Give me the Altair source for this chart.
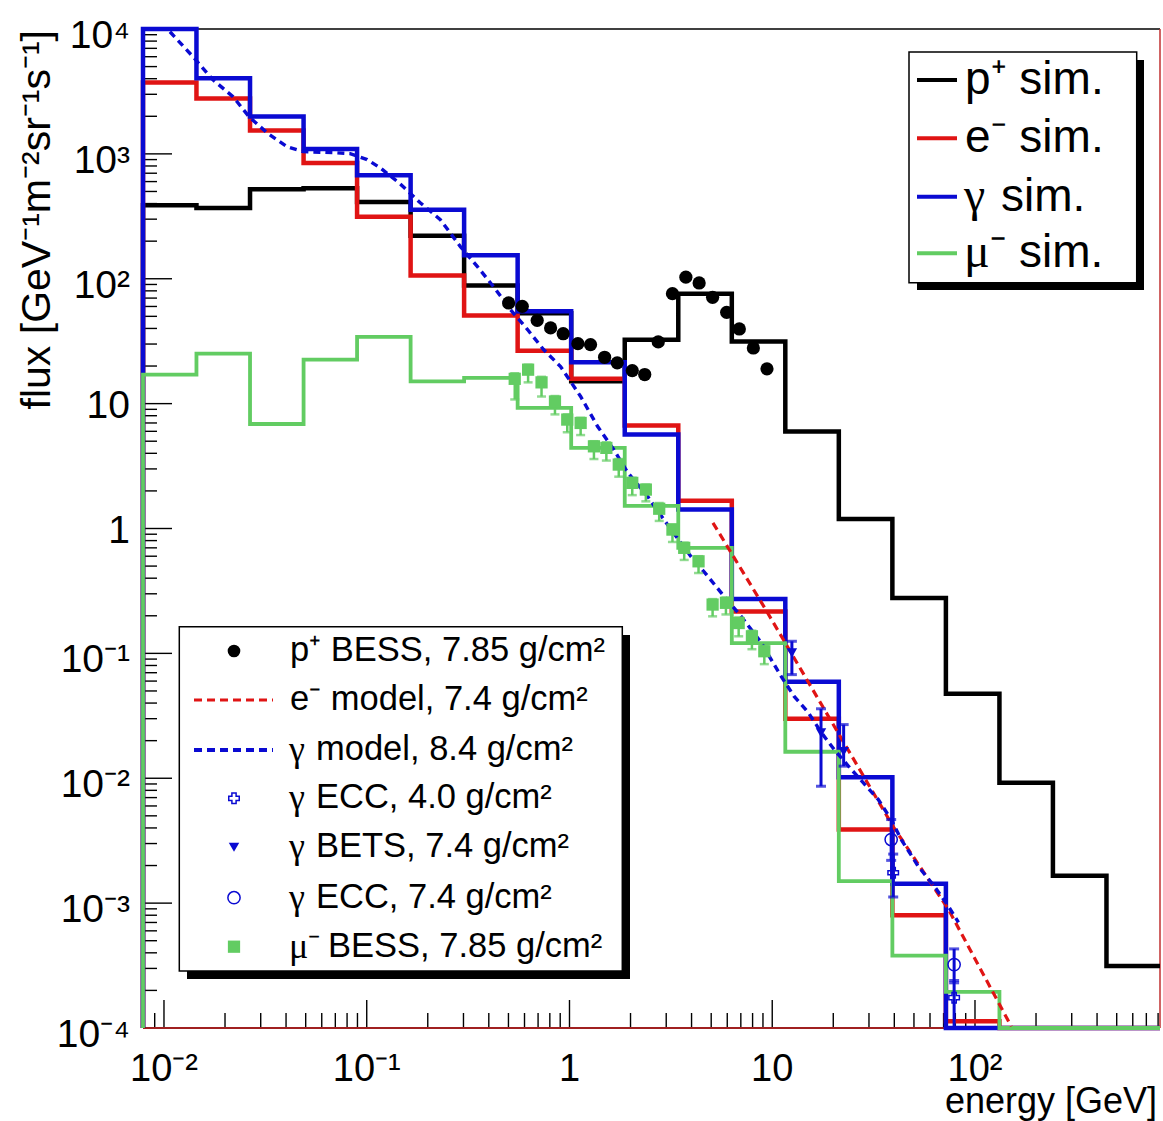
import altair as alt
import pandas as pd

# ---------------- data ----------------
X_DOMAIN = [0.00788, 817.5]
Y_DOMAIN = [1e-4, 1e4]

bin_edges = [0.00788, 0.01446, 0.02657, 0.04881, 0.08961, 0.1646, 0.3022, 0.5550,
             1.0195, 1.873, 3.440, 6.318, 11.60, 21.30, 39.13, 71.86, 132.0,
             242.3, 445.1, 817.5]

p_sim = [387, 369, 520, 530, 412, 221, 88.5, 53, 15.1, 32.5, 76, 31.5, 5.97,
         1.19, 0.278, 0.0474, 0.00919, 0.00166, 3.13e-4]
e_sim = [3730, 2780, 1540, 845, 313, 106, 50.7, 26.5, 15.8, 6.67, 1.67, 0.216,
         0.0299, 0.00388, 8.0e-4, 1.13e-4, 0, 0, 0]
g_sim = [1.0e4, 4030, 1995, 1094, 673, 357, 154, 54.8, 21.4, 5.65, 1.42, 0.273,
         0.0592, 0.0102, 0.00143, 0, 0, 0, 0]
mu_sim = [17.1, 25.1, 6.87, 22.5, 34.2, 15.1, 16.1, 9.25, 4.42, 1.52, 0.70,
          0.121, 0.0163, 0.0015, 3.8e-4, 1.95e-4, 0, 0, 0]

e_model_E = [5.1, 9.1, 39.5, 74.0, 151]
e_model_F = [1.11, 0.237, 0.0041, 8.9e-4, 1.03e-4]

g_model_E = [0.0107, 0.0139, 0.0174, 0.0219, 0.0263, 0.0322, 0.0404, 0.0485, 0.0683,
             0.0828, 0.1005, 0.1164, 0.146, 0.1836, 0.2307, 0.2897, 0.3516, 0.4218,
             0.5117, 0.6209, 0.7447, 0.9036, 1.135, 1.377, 1.652, 1.937, 2.432, 2.918,
             3.97, 4.82, 5.58, 7.02, 8.81, 11.07, 12.83, 15.04, 17.43, 20.2, 24.5,
             33.3, 38.6, 43.3, 52.6, 63.1, 74.0, 82.9]
g_model_F = [9510, 6000, 3930, 2870, 1980, 1476, 1142, 1042, 1023, 1004, 900, 774, 577,
             406, 297, 181, 125, 86.5, 56.6, 39.2, 27.1, 19.8, 11.4, 6.56, 4.29, 2.81,
             1.80, 1.18, 0.597, 0.413, 0.308, 0.198, 0.1225, 0.0654, 0.0452, 0.0337,
             0.0233, 0.0170, 0.0118, 0.00677, 0.00468, 0.00323, 0.00196, 0.00136,
             9.4e-4, 7.0e-4]

p_bess_E = [0.501, 0.585, 0.693, 0.807, 0.931, 1.10, 1.27, 1.49, 1.72, 2.04, 2.35,
            2.74, 3.22, 3.75, 4.36, 5.08, 5.96, 6.88, 8.07, 9.42]
p_bess_F = [64.0, 60.1, 46.4, 40.4, 36.3, 30.2, 29.7, 23.5, 21.2, 18.4, 17.1, 31.2,
            76.0, 103, 92.5, 71.0, 53.8, 39.6, 27.9, 19.0]

mu_bess_E = [0.537, 0.625, 0.728, 0.848, 0.975, 1.135, 1.32, 1.52, 1.75, 2.04, 2.38,
             2.77, 3.22, 3.68, 4.33, 5.08, 5.91, 6.83, 7.94, 9.14]
mu_bess_F = [15.8, 18.7, 14.8, 10.4, 7.45, 7.0, 4.55, 4.42, 3.25, 2.32, 2.05, 1.44,
             0.98, 0.70, 0.546, 0.246, 0.254, 0.175, 0.137, 0.104]
mu_bess_lo = [10.8, 14.8, 11.4, 8.2, 5.9, 5.6, 3.6, 3.5, 2.6, 1.85, 1.65, 1.15, 0.78,
              0.56, 0.44, 0.198, 0.205, 0.137, 0.108, 0.082]
mu_bess_hi = [17.5, 20.5, 16.4, 11.5, 8.2, 7.7, 5.0, 4.9, 3.6, 2.55, 2.25, 1.6, 1.08,
              0.77, 0.6, 0.272, 0.28, 0.194, 0.152, 0.115]

bets_E = [12.5, 17.4, 22.5]
bets_F = [0.101, 0.0231, 0.0164]
bets_lo = [0.0676, 0.00863, 0.0125]
bets_hi = [0.125, 0.036, 0.0269]

ecc74_E = [38.6, 78.9]
ecc74_F = [0.00323, 3.22e-4]
ecc74_lo = [0.0022, 2.3e-4]
ecc74_hi = [0.00467, 4.3e-4]

ecc40_E = [39.5, 78.9]
ecc40_F = [0.00175, 1.75e-4]
ecc40_lo = [0.00112, 1.0e-4]
ecc40_hi = [0.00247, 2.4e-4]

x_tick_labels = ["10⁻²", "10⁻¹", "1", "10", "10²"]
x_tick_values = [0.01, 0.1, 1, 10, 100]
y_tick_labels = ["10⁴", "10³", "10²", "10", "1", "10⁻¹", "10⁻²", "10⁻³", "10⁻⁴"]
y_tick_values = [1e4, 1e3, 1e2, 10, 1, 0.1, 0.01, 1e-3, 1e-4]

# legend labels: (greek prefix drawn in a Symbol-like serif face, remaining text)
legend1_prefix = ["", "", "γ", "μ⁻"]
legend1_rest = ["p⁺ sim.", "e⁻ sim.", "sim.", "sim."]
legend2_prefix = ["", "", "γ", "γ", "γ", "γ", "μ⁻"]
legend2_rest = ["p⁺ BESS, 7.85 g/cm²", "e⁻ model, 7.4 g/cm²", "model, 8.4 g/cm²",
                "ECC, 4.0 g/cm²", "BETS, 7.4 g/cm²", "ECC, 7.4 g/cm²",
                "BESS, 7.85 g/cm²"]

# ---------------- style ----------------
W, H = 1017, 999
FONT = "Liberation Sans"
GREEK_FONT = "Liberation Serif"
BLACK = "#000000"
RED = "#e01414"
BLUE = "#0a0ad2"
GREEN = "#62cc62"

xs = alt.Scale(type="log", domain=X_DOMAIN, nice=False)
ys = alt.Scale(type="log", domain=Y_DOMAIN, nice=False)
one = pd.DataFrame({"a": [0]})


def X(field):
    return alt.X(field, type="quantitative", scale=xs, axis=None)


def Y(field):
    return alt.Y(field, type="quantitative", scale=ys, axis=None)


def hist_df(vals):
    floor = Y_DOMAIN[0]
    rows = [(bin_edges[0], floor)]
    for i, v in enumerate(vals):
        vv = max(v, floor)
        rows.append((bin_edges[i], vv))
        rows.append((bin_edges[i + 1], vv))
    return pd.DataFrame({"e": [r[0] for r in rows], "f": [r[1] for r in rows],
                         "i": list(range(len(rows)))})


def hist_layer(vals, color, width):
    return alt.Chart(hist_df(vals)).mark_line(
        color=color, strokeWidth=width, strokeJoin="miter", clip=False
    ).encode(x=X("e"), y=Y("f"), order="i:Q")


def err_layers(E, lo, hi, color, width, cap):
    d = pd.DataFrame({"E": E, "lo": lo, "hi": hi})
    caps = pd.DataFrame({"E": E + E, "v": lo + hi})
    r = alt.Chart(d).mark_rule(color=color, strokeWidth=width, clip=True).encode(
        x=X("E"), y=Y("lo"), y2="hi")
    c = alt.Chart(caps).mark_tick(color=color, orient="horizontal", size=cap,
                                  thickness=width, clip=True).encode(x=X("E"), y=Y("v"))
    return [r, c]


def text_at(txt, x, y, size, font=FONT, align="left", baseline="middle"):
    return alt.Chart(one).mark_text(
        text=txt, font=font, fontSize=size, align=align, baseline=baseline,
        color=BLACK).encode(x=alt.value(x), y=alt.value(y))


layers = []

# axis ticks (inside)
xt = []
for d in range(-3, 3):
    for k in range(1, 10):
        v = k * 10.0 ** d
        if X_DOMAIN[0] <= v <= X_DOMAIN[1]:
            xt.append((v, 28 if k == 1 else 15))
xt_df = pd.DataFrame({"v": [a for a, b in xt], "len": [b for a, b in xt]})
for ln in (28, 15):
    layers.append(alt.Chart(xt_df[xt_df["len"] == ln]).mark_rule(
        color=BLACK, strokeWidth=1.4).encode(x=X("v"), y=alt.value(H), y2=alt.value(H - ln)))
yt = []
for d in range(-4, 5):
    for k in range(1, 10):
        v = k * 10.0 ** d
        if Y_DOMAIN[0] <= v <= Y_DOMAIN[1]:
            yt.append((v, 29 if k == 1 else 14))
yt_df = pd.DataFrame({"v": [a for a, b in yt], "len": [b for a, b in yt]})
for ln in (29, 14):
    layers.append(alt.Chart(yt_df[yt_df["len"] == ln]).mark_rule(
        color=BLACK, strokeWidth=1.4).encode(y=Y("v"), x=alt.value(0), x2=alt.value(ln)))

# frame
layers.append(alt.Chart(one).mark_rule(color=BLACK, strokeWidth=1.5).encode(
    x=alt.value(0), x2=alt.value(W), y=alt.value(0)))
layers.append(alt.Chart(one).mark_rule(color="#c03030", strokeWidth=1.5).encode(
    x=alt.value(W), y=alt.value(0), y2=alt.value(H)))
layers.append(alt.Chart(one).mark_rule(color="#a02020", strokeWidth=2).encode(
    x=alt.value(0), x2=alt.value(W), y=alt.value(H)))

# histograms
layers.append(hist_layer(p_sim, BLACK, 4.5))
layers.append(hist_layer(e_sim, RED, 4.5))
layers.append(hist_layer(g_sim, BLUE, 4.5))
layers.append(hist_layer(mu_sim, GREEN, 3.8))

# models
layers.append(alt.Chart(pd.DataFrame({"E": e_model_E, "F": e_model_F})).mark_line(
    color=RED, strokeWidth=3.2, strokeDash=[8, 5], clip=True).encode(x=X("E"), y=Y("F")))
layers.append(alt.Chart(pd.DataFrame({"E": g_model_E, "F": g_model_F})).mark_line(
    color=BLUE, strokeWidth=3.4, strokeDash=[7, 5], clip=True).encode(x=X("E"), y=Y("F")))

# muon BESS
layers += err_layers(mu_bess_E, mu_bess_lo, mu_bess_hi, GREEN, 2.5, 9)
layers.append(alt.Chart(pd.DataFrame({"E": mu_bess_E, "F": mu_bess_F})).mark_point(
    shape="square", filled=True, size=150, color=GREEN, opacity=1).encode(x=X("E"), y=Y("F")))

# proton BESS
layers.append(alt.Chart(pd.DataFrame({"E": p_bess_E, "F": p_bess_F})).mark_point(
    shape="circle", filled=True, size=175, color=BLACK, opacity=1).encode(x=X("E"), y=Y("F")))

# gamma data
layers += err_layers(bets_E, bets_lo, bets_hi, BLUE, 3, 10)
layers += err_layers(ecc74_E, ecc74_lo, ecc74_hi, BLUE, 3, 10)
layers += err_layers(ecc40_E, ecc40_lo, ecc40_hi, BLUE, 3, 10)
layers.append(alt.Chart(pd.DataFrame({"E": bets_E, "F": bets_F})).mark_point(
    shape="triangle-down", filled=True, size=110, color=BLUE, opacity=1).encode(x=X("E"), y=Y("F")))
layers.append(alt.Chart(pd.DataFrame({"E": ecc74_E, "F": ecc74_F})).mark_point(
    shape="circle", filled=False, size=150, color=BLUE, strokeWidth=1.5, opacity=1).encode(x=X("E"), y=Y("F")))
layers.append(alt.Chart(pd.DataFrame({"E": ecc40_E, "F": ecc40_F})).mark_point(
    shape="cross", filled=False, size=110, color=BLUE, strokeWidth=1.5, opacity=1).encode(x=X("E"), y=Y("F")))

# tick labels
layers.append(alt.Chart(pd.DataFrame({"v": x_tick_values, "t": x_tick_labels})).mark_text(
    font=FONT, fontSize=38, align="center", baseline="alphabetic", color=BLACK).encode(
    x=X("v"), y=alt.value(1052), text="t:N"))
ydf = pd.DataFrame({"v": y_tick_values, "t": y_tick_labels})
ydf_sup = ydf[ydf["t"].str.len() > 2]
ydf_plain = ydf[ydf["t"].str.len() <= 2]
layers.append(alt.Chart(ydf_sup).mark_text(
    font=FONT, fontSize=39, align="right", baseline="middle", dy=7, color=BLACK).encode(
    y=Y("v"), x=alt.value(-13), text="t:N"))
layers.append(alt.Chart(ydf_plain).mark_text(
    font=FONT, fontSize=39, align="right", baseline="middle", dy=2, color=BLACK).encode(
    y=Y("v"), x=alt.value(-13), text="t:N"))

# axis titles
layers.append(alt.Chart(one).mark_text(
    text="flux [GeV⁻¹m⁻²sr⁻¹s⁻¹]", font=FONT, fontSize=41, angle=270, align="right",
    baseline="alphabetic", color=BLACK).encode(x=alt.value(-93), y=alt.value(1)))
layers.append(text_at("energy [GeV]", 1014, 1084, 36, align="right", baseline="alphabetic"))

# legend 1 (top right)
layers.append(alt.Chart(one).mark_rect(color=BLACK).encode(
    x=alt.value(774), x2=alt.value(1001), y=alt.value(31), y2=alt.value(261)))
layers.append(alt.Chart(one).mark_rect(fill="white", stroke=BLACK, strokeWidth=1.5).encode(
    x=alt.value(766), x2=alt.value(993.7), y=alt.value(23), y2=alt.value(253.7)))
leg1_y = [51, 109.3, 167.7, 224.3]
leg1_colors = [BLACK, RED, BLUE, GREEN]
leg1_rest_x = [822, 822, 858, 876]
for yy, col, pre, rest, rx in zip(leg1_y, leg1_colors, legend1_prefix, legend1_rest, leg1_rest_x):
    layers.append(alt.Chart(one).mark_rule(color=col, strokeWidth=4).encode(
        x=alt.value(774), x2=alt.value(814), y=alt.value(yy)))
    if pre:
        layers.append(text_at(pre, 821, yy, 48, font=GREEK_FONT))
    layers.append(text_at(rest, rx, yy, 46))

# legend 2 (bottom left)
layers.append(alt.Chart(one).mark_rect(color=BLACK).encode(
    x=alt.value(44), x2=alt.value(487), y=alt.value(606), y2=alt.value(950)))
layers.append(alt.Chart(one).mark_rect(fill="white", stroke=BLACK, strokeWidth=1.5).encode(
    x=alt.value(36.3), x2=alt.value(479.3), y=alt.value(597.7), y2=alt.value(942)))
leg2_y = [622, 671, 721, 769.3, 818.3, 868.7, 917.7]
leg2_rest_x = [147, 147, 173, 173, 173, 173, 185]
for yy, pre, rest, rx in zip(leg2_y, legend2_prefix, legend2_rest, leg2_rest_x):
    if pre:
        layers.append(text_at(pre, 146, yy, 36, font=GREEK_FONT))
    layers.append(text_at(rest, rx, yy, 34.5))
layers.append(alt.Chart(one).mark_point(shape="circle", filled=True, size=160, color=BLACK,
                                        opacity=1).encode(x=alt.value(91), y=alt.value(leg2_y[0])))
layers.append(alt.Chart(one).mark_rule(color=RED, strokeWidth=3, strokeDash=[8, 5]).encode(
    x=alt.value(51), x2=alt.value(130), y=alt.value(leg2_y[1])))
layers.append(alt.Chart(one).mark_rule(color=BLUE, strokeWidth=4, strokeDash=[8, 5]).encode(
    x=alt.value(51), x2=alt.value(130), y=alt.value(leg2_y[2])))
layers.append(alt.Chart(one).mark_point(shape="cross", filled=False, size=110, color=BLUE,
                                        strokeWidth=1.5, opacity=1).encode(x=alt.value(91), y=alt.value(leg2_y[3])))
layers.append(alt.Chart(one).mark_point(shape="triangle-down", filled=True, size=110, color=BLUE,
                                        opacity=1).encode(x=alt.value(91), y=alt.value(leg2_y[4])))
layers.append(alt.Chart(one).mark_point(shape="circle", filled=False, size=150, color=BLUE,
                                        strokeWidth=1.5, opacity=1).encode(x=alt.value(91), y=alt.value(leg2_y[5])))
layers.append(alt.Chart(one).mark_point(shape="square", filled=True, size=150, color=GREEN,
                                        opacity=1).encode(x=alt.value(91), y=alt.value(leg2_y[6])))

chart = alt.layer(*layers).properties(
    width=W, height=H,
    padding={"left": 143, "top": 29, "right": 3, "bottom": 93},
    autosize=alt.AutoSizeParams(type="none"),
    background="white",
).configure_view(stroke=None)

chart.save("out.html", embed_options={"renderer": "svg", "actions": False})
